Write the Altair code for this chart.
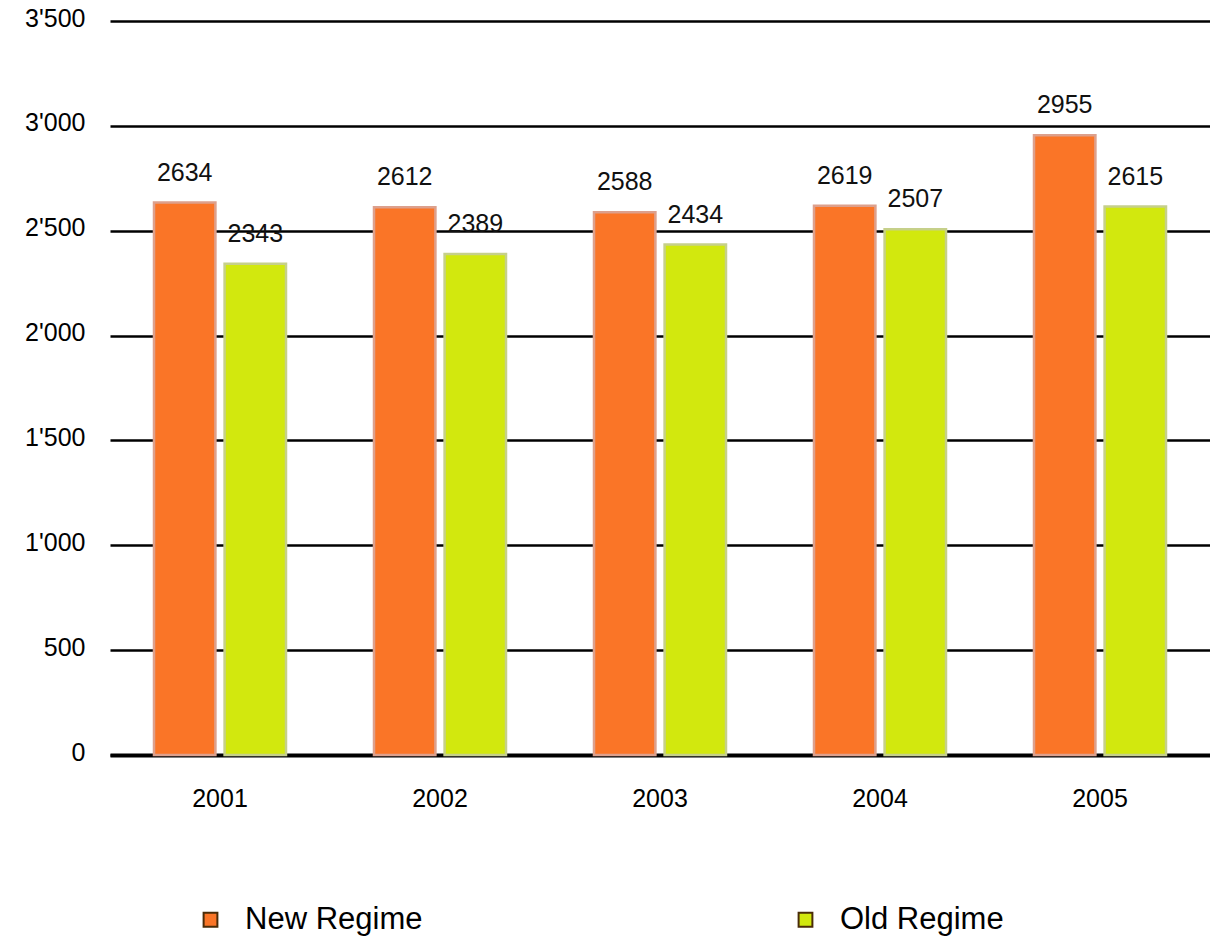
import altair as alt
import pandas as pd

years = ["2001", "2002", "2003", "2004", "2005"]
new_regime = [2634, 2612, 2588, 2619, 2955]
old_regime = [2343, 2389, 2434, 2507, 2615]
series = ["New Regime", "Old Regime"]
fill_colors = ["#FA7527", "#D2E80E"]
edge_colors = ["#DDA08C", "#C6D08A"]

rows = []
for i, y in enumerate(years):
    rows.append({"year": y, "series": series[0], "value": new_regime[i], "edge": edge_colors[0]})
    rows.append({"year": y, "series": series[1], "value": old_regime[i], "edge": edge_colors[1]})
df = pd.DataFrame(rows)

FONT = "Liberation Sans"

x_enc = alt.X(
    "year:N",
    sort=years,
    scale=alt.Scale(paddingInner=0.4, paddingOuter=0.2),
    axis=alt.Axis(
        title=None,
        labelAngle=0,
        ticks=False,
        domain=True,
        domainColor="#000000",
        domainWidth=4,
        labelFont=FONT,
        labelFontSize=25,
        labelColor="#000000",
        labelPadding=31,
        grid=False,
    ),
)
xoff = alt.XOffset("series:N", sort=series, scale=alt.Scale(paddingInner=0.13, paddingOuter=0))
y_enc = alt.Y(
    "value:Q",
    scale=alt.Scale(domain=[0, 3500], nice=False),
    axis=alt.Axis(
        title=None,
        values=[0, 500, 1000, 1500, 2000, 2500, 3000, 3500],
        labelExpr="replace(format(datum.value, ',d'), ',', \"'\")",
        ticks=False,
        domain=False,
        grid=True,
        gridColor="#000000",
        gridWidth=2.5,
        gridOpacity=1,
        labelFont=FONT,
        labelFontSize=25,
        labelColor="#000000",
        labelPadding=25,
        labelOffset=-3,
    ),
)

bars = alt.Chart(df).mark_bar(strokeWidth=2.5).encode(
    x=x_enc,
    xOffset=xoff,
    y=y_enc,
    color=alt.Color(
        "series:N",
        sort=series,
        scale=alt.Scale(domain=series, range=fill_colors),
        legend=alt.Legend(
            title=None,
            orient="none",
            legendX=85,
            legendY=883,
            direction="horizontal",
            symbolType="square",
            symbolSize=190,
            symbolOpacity=1,
            symbolStrokeColor="#4a2c08",
            symbolStrokeWidth=2,
            labelFont=FONT,
            labelFontSize=31,
            labelColor="#000000",
            labelOffset=19,
            labelLimit=500,
            columnPadding=367,
            padding=0,
        ),
    ),
    stroke=alt.Stroke("edge:N", scale=None),
)

labels = alt.Chart(df).mark_text(
    baseline="alphabetic", dy=-22, font=FONT, fontSize=25, color="#111111"
).encode(
    x=alt.X("year:N", sort=years),
    xOffset=alt.XOffset("series:N", sort=series),
    y="value:Q",
    text="value:Q",
)

chart = (
    alt.layer(bars, labels)
    .properties(
        width=1100,
        height=734,
        autosize=alt.AutoSizeParams(type="none"),
        padding={"left": 110, "top": 21, "right": 0, "bottom": 182},
        background="#ffffff",
    )
    .configure_view(stroke=None)
)

chart.save("out.html", embed_options={"renderer": "svg", "actions": False})
